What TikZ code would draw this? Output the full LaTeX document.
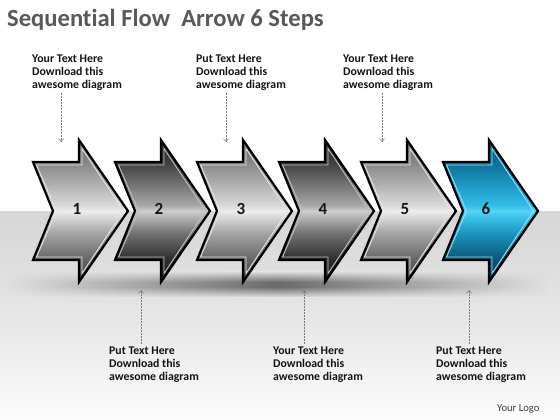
\documentclass[tikz,border=0pt]{standalone}
\usepackage{fontspec}
\setmainfont{Carlito}[Ligatures=NoCommon]
\usetikzlibrary{arrows.meta,fadings}

\definecolor{titlegray}{HTML}{595959}
\definecolor{ptrgray}{HTML}{7A7A7A}
\definecolor{logogray}{HTML}{404040}

\pgfdeclareverticalshading{arrowlight}{100bp}{%
  color(0bp)=(black!80); color(25bp)=(black!80); color(29bp)=(black!68);
  color(33bp)=(black!60); color(42bp)=(black!36); color(48bp)=(black!15);
  color(50bp)=(black!7); color(52bp)=(black!15); color(58bp)=(black!28);
  color(67bp)=(black!47); color(75bp)=(black!58); color(100bp)=(black!58)}
\pgfdeclareverticalshading{arrowdark}{100bp}{%
  color(0bp)=(black!90); color(25bp)=(black!90); color(33bp)=(black!82);
  color(42bp)=(black!56); color(48bp)=(black!29); color(50bp)=(black!19);
  color(52bp)=(black!34); color(58bp)=(black!51); color(67bp)=(black!75);
  color(75bp)=(black!82); color(100bp)=(black!82)}
\definecolor{b1}{HTML}{05334A}\definecolor{b2}{HTML}{0A5675}
\definecolor{b3}{HTML}{1C93BF}\definecolor{b4}{HTML}{3CC3EC}
\definecolor{b5}{HTML}{55D4F7}\definecolor{b6}{HTML}{34BDE8}
\definecolor{b7}{HTML}{1F9FCA}\definecolor{b8}{HTML}{0D6F94}
\definecolor{b9}{HTML}{0B5373}
\pgfdeclareverticalshading{arrowblue}{100bp}{%
  color(0bp)=(b1); color(25bp)=(b1); color(33bp)=(b2); color(42bp)=(b3);
  color(48bp)=(b4); color(50bp)=(b5); color(52bp)=(b6); color(58bp)=(b7);
  color(67bp)=(b8); color(75bp)=(b9); color(100bp)=(b9)}
\pgfdeclareverticalshading{bgband}{100bp}{%
  color(0bp)=(black!1); color(25bp)=(black!1); color(39bp)=(black!6);
  color(54bp)=(black!11); color(75bp)=(black!16); color(100bp)=(black!16)}
\pgfdeclareverticalshading{shadowband}{100bp}{%
  color(0bp)=(black!13); color(25bp)=(black!13); color(45bp)=(black!58);
  color(55bp)=(black!58); color(75bp)=(black!15); color(100bp)=(black!15)}
\tikzfading[name=fadeends, left color=transparent!100, right color=transparent!100,
  middle color=transparent!0]

\tikzset{
  titletext/.style={font=\bfseries\fontsize{24.6}{28}\selectfont, text=titlegray,
    anchor=base west, inner sep=0pt},
  lbl/.style={font=\bfseries\fontsize{11.8}{13.3}\selectfont, align=left,
    anchor=north west, inner sep=0pt, text=black!92},
  numlbl/.style={font=\bfseries\fontsize{17}{19}\selectfont, text=black!92, inner sep=0pt},
  pointer/.style={draw=ptrgray, line width=0.6pt, dash pattern=on 0.8pt off 0.7pt,
    -{Straight Barb[length=3pt,width=5pt]}},
  outline/.style={draw=black, line width=2.2pt, line join=miter},
  bevel/.style={line width=0.9pt, line join=miter}
}

\newcommand{\chevarrow}[3]{%
  \shade[shading=#2] (#1,162) -- ({#1+46},162) -- ({#1+46},140) -- ({#1+95},211)
    -- ({#1+46},282) -- ({#1+46},260) -- (#1,260) -- ({#1+20},211) -- cycle;
  \draw[bevel, draw=#3] ({#1+3.5},165) -- ({#1+49},165) -- ({#1+49},148.5)
    -- ({#1+90.5},211) -- ({#1+49},273.5) -- ({#1+49},257) -- ({#1+3.5},257)
    -- ({#1+23.5},211) -- cycle;
  \draw[outline] (#1,162) -- ({#1+46},162) -- ({#1+46},140) -- ({#1+95},211)
    -- ({#1+46},282) -- ({#1+46},260) -- (#1,260) -- ({#1+20},211) -- cycle;
}

\begin{document}
\begin{tikzpicture}[x=1pt,y=-1pt]
\useasboundingbox (0,0) rectangle (560,420);
\fill[white] (0,0) rectangle (560,420);
\shade[shading=bgband] (0,211) rectangle (560,420);
\shade[shading=shadowband, path fading=fadeends] (6,272) rectangle (548,297);

\chevarrow{33}{arrowlight}{black!10}
\chevarrow{115}{arrowdark}{black!25}
\chevarrow{197}{arrowlight}{black!10}
\chevarrow{279}{arrowdark}{black!25}
\chevarrow{361}{arrowlight}{black!10}
\chevarrow{443}{arrowblue}{cyan!40}

\node[numlbl] (n1) at (77,209) {1};
\node[numlbl] (n2) at (159,209) {2};
\node[numlbl] (n3) at (241,209) {3};
\node[numlbl] (n4) at (323,209) {4};
\node[numlbl] (n5) at (405,209) {5};
\node[numlbl] (n6) at (486,209) {6};

\node[titletext] (title) at (7,27) {Sequential Flow\ \ Arrow 6 Steps};

\node[lbl] (t1) at (32,54.5) {Your Text Here\\Download this\\awesome diagram};
\node[lbl] (t2) at (196,54.5) {Put Text Here\\Download this\\awesome diagram};
\node[lbl] (t3) at (343,54.5) {Your Text Here\\Download this\\awesome diagram};
\node[lbl] (b1) at (109,346.5) {Put Text Here\\Download this\\awesome diagram};
\node[lbl] (b2) at (273,346.5) {Your Text Here\\Download this\\awesome diagram};
\node[lbl] (b3) at (436,346.5) {Put Text Here\\Download this\\awesome diagram};

\coordinate (pt1s) at (61,93);  \coordinate (pt1e) at (61,142);
\coordinate (pt2s) at (226,93); \coordinate (pt2e) at (226,142);
\coordinate (pt3s) at (382,93); \coordinate (pt3e) at (382,142);
\coordinate (pb1s) at (141,344); \coordinate (pb1e) at (141,290);
\coordinate (pb2s) at (304,344); \coordinate (pb2e) at (304,290);
\coordinate (pb3s) at (469,344); \coordinate (pb3e) at (469,290);
\draw[pointer] (pt1s) -- (pt1e);
\draw[pointer] (pt2s) -- (pt2e);
\draw[pointer] (pt3s) -- (pt3e);
\draw[pointer] (pb1s) -- (pb1e);
\draw[pointer] (pb2s) -- (pb2e);
\draw[pointer] (pb3s) -- (pb3e);

\node[anchor=base west, inner sep=0pt, text=logogray, font=\fontsize{10.6}{12}\selectfont]
  (logo) at (497,411) {Your Logo};
\end{tikzpicture}
\end{document}
